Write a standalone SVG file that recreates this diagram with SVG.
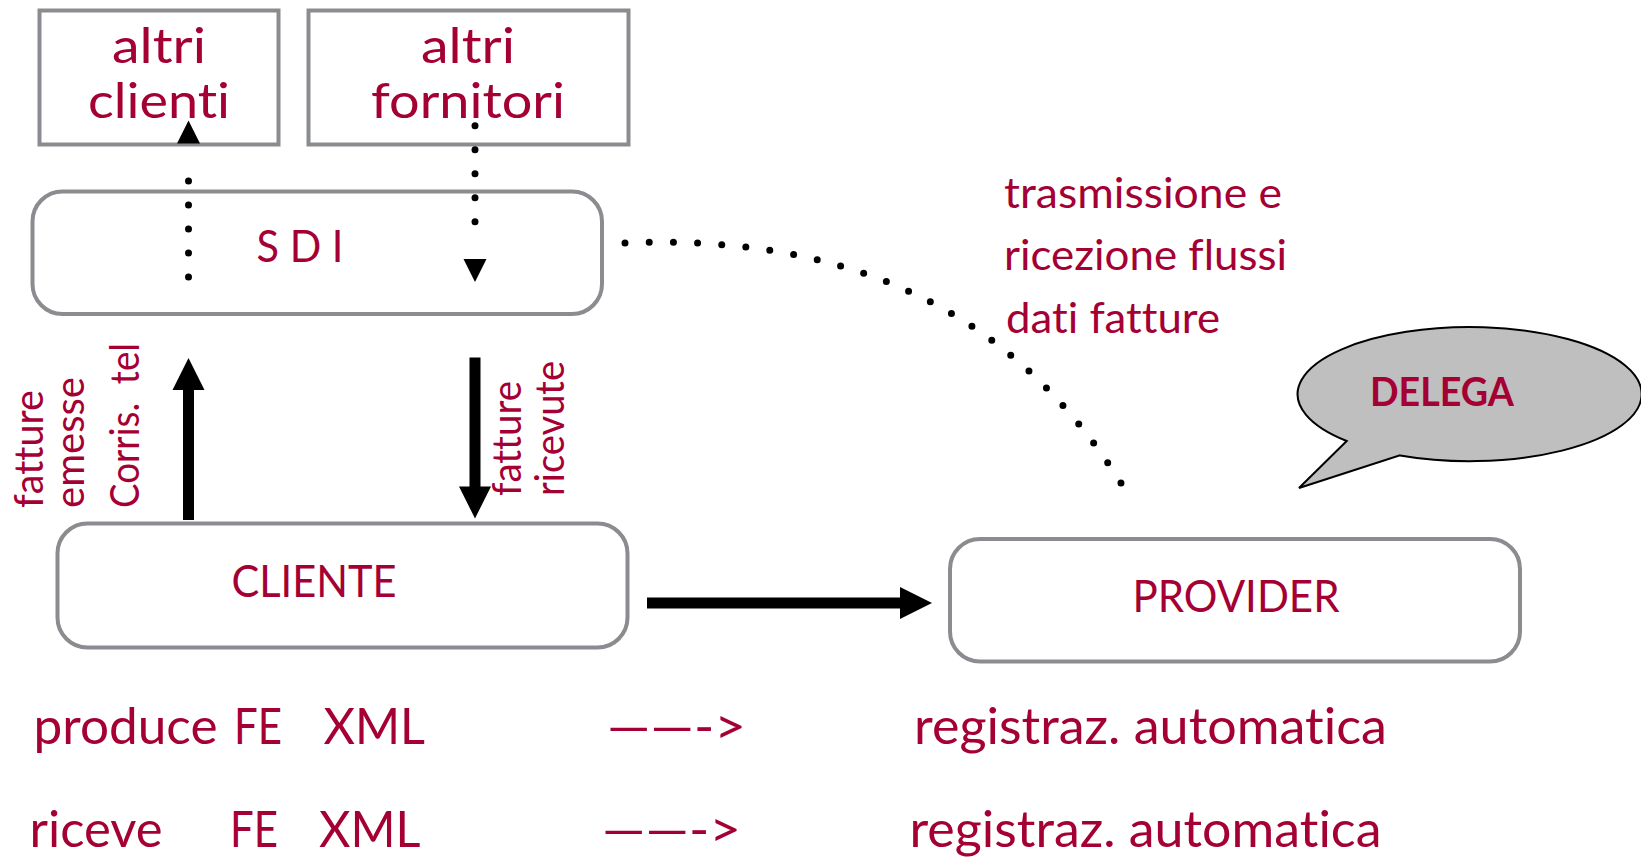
<svg xmlns="http://www.w3.org/2000/svg" xmlns:xlink="http://www.w3.org/1999/xlink" width="1641" height="858" viewBox="0 0 1641 858">
  <style>
    .box { fill: #ffffff; stroke: #8a8c8f; stroke-width: 4; }
    .lbl { font-family: Lato, "Liberation Sans", sans-serif; fill: #a50034; font-variant-ligatures: none; font-feature-settings: "liga" 0, "clig" 0; }
    .mid { text-anchor: middle; }
    .dots { fill: none; stroke: #000000; stroke-width: 7; stroke-linecap: round; }
    .shaft { fill: none; stroke: #000000; stroke-width: 11; }
  </style>
  <defs>
    <!-- arrowheads point along +x with the tip at the origin -->
    <path id="bigHead" d="M0,0 L-32,-16 L-32,16 Z" fill="#000000"/>
    <path id="dotHead" d="M0,0 L-23,-11.5 L-23,11.5 Z" fill="#000000"/>
  </defs>

  <rect width="1641" height="858" fill="#ffffff"/>

  <!-- nodes -->
  <g id="altri-clienti">
    <rect class="box" x="39.5" y="10.5" width="239" height="134"/>
    <text class="lbl mid" x="159" y="63" font-size="49" textLength="94" lengthAdjust="spacingAndGlyphs">altri</text>
    <text class="lbl mid" x="159" y="118" font-size="49" textLength="142" lengthAdjust="spacingAndGlyphs">clienti</text>
  </g>

  <g id="altri-fornitori">
    <rect class="box" x="308.5" y="10.5" width="320" height="134"/>
    <text class="lbl mid" x="468" y="63" font-size="49" textLength="94" lengthAdjust="spacingAndGlyphs">altri</text>
    <text class="lbl mid" x="468" y="118" font-size="49" textLength="194" lengthAdjust="spacingAndGlyphs">fornitori</text>
  </g>

  <g id="sdi">
    <rect class="box" x="32.5" y="191.5" width="569.5" height="122.5" rx="30"/>
    <text class="lbl mid" x="300" y="261.5" font-size="44" textLength="87" lengthAdjust="spacingAndGlyphs">S D I</text>
  </g>

  <g id="cliente">
    <rect class="box" x="57.5" y="523.5" width="570" height="124" rx="30"/>
    <text class="lbl mid" x="314" y="596.5" font-size="45" textLength="165" lengthAdjust="spacingAndGlyphs">CLIENTE</text>
  </g>

  <g id="provider">
    <rect class="box" x="950" y="539" width="570" height="122.5" rx="30"/>
    <text class="lbl mid" x="1236" y="612" font-size="45" textLength="207" lengthAdjust="spacingAndGlyphs">PROVIDER</text>
  </g>

  <g id="delega">
    <path d="M1346.7,441 L1299,488 L1400,455.4 A172,67 0 1 0 1346.7,441 Z" fill="#bfbfbf" stroke="#000000" stroke-width="2"/>
    <text class="lbl mid" x="1442" y="406" font-size="40" font-weight="bold" textLength="144" lengthAdjust="spacingAndGlyphs">DELEGA</text>
  </g>

  <!-- connectors -->
  <g id="connectors">
    <!-- SDI -> altri clienti (dotted) -->
    <path class="dots" d="M188.5,277 V157" stroke-dasharray="0 24"/>
    <use xlink:href="#dotHead" transform="translate(188.5,120.5) rotate(-90)"/>
    <!-- altri fornitori -> SDI (dotted) -->
    <path class="dots" d="M475,125.7 V245.7" stroke-dasharray="0 24"/>
    <use xlink:href="#dotHead" transform="translate(475,282) rotate(90)"/>
    <!-- SDI ... provider data flows (dotted curve) -->
    <path class="dots" d="M625,243 C820,235 1000,290 1121,483" pathLength="24" stroke-dasharray="0 0.9999"/>

    <!-- CLIENTE -> SDI -->
    <path class="shaft" d="M188.5,520 V388"/>
    <use xlink:href="#bigHead" transform="translate(188.5,358) rotate(-90)"/>
    <!-- SDI -> CLIENTE -->
    <path class="shaft" d="M475,357.5 V488"/>
    <use xlink:href="#bigHead" transform="translate(475,518.5) rotate(90)"/>
    <!-- CLIENTE -> PROVIDER -->
    <path class="shaft" d="M647,603 H901" stroke-width="10"/>
    <use xlink:href="#bigHead" transform="translate(932,603)"/>
  </g>

  <!-- connector labels -->
  <g id="flow-labels">
    <text class="lbl" transform="translate(43,508) rotate(-90)" font-size="41" textLength="118" lengthAdjust="spacingAndGlyphs">fatture</text>
    <text class="lbl" transform="translate(84,508) rotate(-90)" font-size="41" textLength="131" lengthAdjust="spacingAndGlyphs">emesse</text>
    <text class="lbl" transform="translate(139,508) rotate(-90)" font-size="41" textLength="165" lengthAdjust="spacingAndGlyphs">Corris.&#160;&#160;tel</text>
    <text class="lbl" transform="translate(521,496) rotate(-90)" font-size="41" textLength="115" lengthAdjust="spacingAndGlyphs">fatture</text>
    <text class="lbl" transform="translate(564,496) rotate(-90)" font-size="41" textLength="135" lengthAdjust="spacingAndGlyphs">ricevute</text>

    <text class="lbl" x="1004" y="208" font-size="43" textLength="278" lengthAdjust="spacingAndGlyphs">trasmissione e</text>
    <text class="lbl" x="1004" y="270" font-size="43" textLength="283" lengthAdjust="spacingAndGlyphs">ricezione flussi</text>
    <text class="lbl" x="1006" y="333" font-size="43" textLength="214" lengthAdjust="spacingAndGlyphs">dati fatture</text>
  </g>

  <!-- legend rows -->
  <g id="legend">
    <text class="lbl" y="744" font-size="50">
      <tspan x="33.5" textLength="184" lengthAdjust="spacingAndGlyphs">produce</tspan>
      <tspan x="234" textLength="48" lengthAdjust="spacingAndGlyphs">FE</tspan>
      <tspan x="323.5" textLength="100" lengthAdjust="spacingAndGlyphs">XML</tspan>
      <tspan x="607" textLength="139" lengthAdjust="spacingAndGlyphs">——-&gt;</tspan>
      <tspan x="914" textLength="473" lengthAdjust="spacingAndGlyphs">registraz. automatica</tspan>
    </text>
    <text class="lbl" y="847" font-size="50">
      <tspan x="29.5" textLength="133" lengthAdjust="spacingAndGlyphs">riceve</tspan>
      <tspan x="230" textLength="48" lengthAdjust="spacingAndGlyphs">FE</tspan>
      <tspan x="319" textLength="100" lengthAdjust="spacingAndGlyphs">XML</tspan>
      <tspan x="602" textLength="139" lengthAdjust="spacingAndGlyphs">——-&gt;</tspan>
      <tspan x="909.5" textLength="472" lengthAdjust="spacingAndGlyphs">registraz. automatica</tspan>
    </text>
  </g>
</svg>
